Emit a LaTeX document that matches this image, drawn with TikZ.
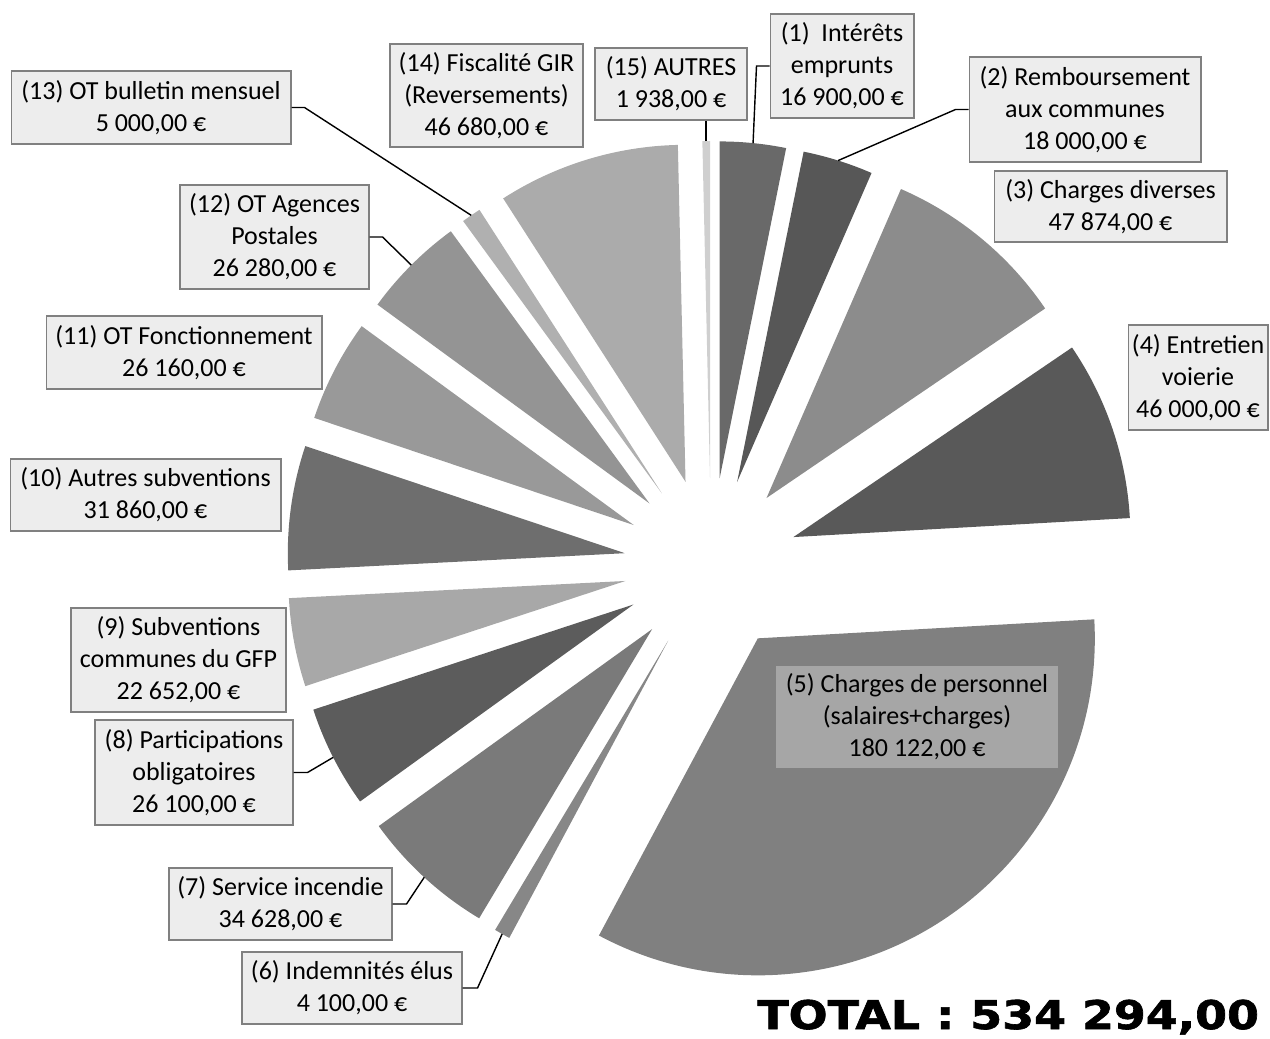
\documentclass[tikz,border=0pt]{standalone}
\usepackage{fontspec}
\setmainfont{Carlito}
\newfontfamily\totalfont{DejaVu Sans}[BoldFeatures={FakeBold=1.5}]
\usepackage{tikz}

\begin{document}
\begin{tikzpicture}[x=0.02cm,y=0.02cm,
	lbl/.style={draw=black!50,fill=black!7,line width=0.6pt,align=center,inner sep=0pt,
		font=\fontsize{14.8}{18.2}\selectfont},
	lblin/.style={fill=black!35,align=center,inner sep=0pt,
		font=\fontsize{14.8}{18.2}\selectfont},
	lead/.style={black,line width=0.8pt}]
	\useasboundingbox (0,0) rectangle (1270,-1038);
	\coordinate (ctr) at (711,-565);
	% slices: number / start / end / grey
	\foreach \n/\a/\b/\k in {1/90/78.613/59, 2/78.613/66.485/66, 3/66.485/34.228/45,
		4/34.228/3.234/65, 5/3.234/-118.130/50, 6/-118.130/-120.893/47,
		7/-120.893/-144.225/52, 8/-144.225/-161.811/64, 9/-161.811/-177.074/34,
		10/-177.074/-198.541/57, 11/-198.541/-216.167/40, 12/-216.167/-233.874/42,
		13/-233.874/-237.243/31, 14/-237.243/-268.695/33, 15/-268.695/-270/19}{
		\pgfmathsetmacro\m{(\a+\b)/2}
		\fill[black!\k] (ctr) ++(\m:87) -- ++(\a:337) arc[start angle=\a,end angle=\b,radius=337] -- cycle;
		\path (ctr) ++(\m:424) coordinate (o\n);
	}

	\node[lbl,minimum width=2.88cm,minimum height=2.08cm] (b1) at (842,-66) {(1)~ Intérêts\\emprunts\\16 900,00 €};
	\node[lbl,minimum width=4.64cm,minimum height=2.10cm] (b2) at (1085,-109.5) {(2) Remboursement\\aux communes\\18 000,00 €};
	\node[lbl,minimum width=4.66cm,minimum height=1.42cm] (b3) at (1110.5,-206.5) {(3) Charges diverses\\47 874,00 €};
	\node[lbl,minimum width=2.80cm,minimum height=2.10cm] (b4) at (1198,-377.5) {(4) Entretien\\voierie\\46 000,00 €};
	\node[lblin,minimum width=5.64cm,minimum height=2.04cm] (b5) at (917,-717) {(5) Charges de personnel\\(salaires+charges)\\180 122,00 €};
	\node[lbl,minimum width=4.40cm,minimum height=1.44cm] (b6) at (352,-988) {(6) Indemnités élus\\4 100,00 €};
	\node[lbl,minimum width=4.46cm,minimum height=1.44cm] (b7) at (280.5,-904) {(7) Service incendie\\34 628,00 €};
	\node[lbl,minimum width=3.96cm,minimum height=2.10cm] (b8) at (194,-772.5) {(8) Participations\\obligatoires\\26 100,00 €};
	\node[lbl,minimum width=4.30cm,minimum height=2.08cm] (b9) at (178.5,-660) {(9) Subventions\\communes du GFP\\22 652,00 €};
	\node[lbl,minimum width=5.42cm,minimum height=1.44cm] (b10) at (145.5,-495) {(10) Autres subventions\\31 860,00 €};
	\node[lbl,minimum width=5.52cm,minimum height=1.46cm] (b11) at (184,-352.5) {(11) OT Fonctionnement\\26 160,00 €};
	\node[lbl,minimum width=3.78cm,minimum height=2.08cm] (b12) at (274.5,-237) {(12) OT Agences\\Postales\\26 280,00 €};
	\node[lbl,minimum width=5.60cm,minimum height=1.46cm] (b13) at (151,-107.5) {(13) OT bulletin mensuel\\5 000,00 €};
	\node[lbl,minimum width=3.86cm,minimum height=2.06cm] (b14) at (486.5,-95.5) {(14) Fiscalité GIR\\(Reversements)\\46 680,00 €};
	\node[lbl,minimum width=3.04cm,minimum height=1.44cm] (b15) at (671,-84) {(15) AUTRES\\1 938,00 €};

	\draw[lead] (b1.west) -- ++(-13,0) -- (o1);
	\draw[lead] (b2.west) -- ++(-13,0) -- (o2);
	\draw[lead] (b6.east) -- ++(15,0) -- (o6);
	\draw[lead] (b7.east) -- ++(14,0) -- (o7);
	\draw[lead] (b8.east) -- ++(14,0) -- (o8);
	\draw[lead] (b12.east) -- ++(13,0) -- (o12);
	\draw[lead] (b13.east) -- ++(13,0) -- (o13);
	\draw[lead] (o15) -- (o15 |- b15.south);

	\node[anchor=base west,inner sep=0pt] (total) at (757,-1029)
		{\totalfont\bfseries\fontsize{22.5}{26}\selectfont\scalebox{1.16}[1]{TOTAL : 534 294,00}};
\end{tikzpicture}
\end{document}
